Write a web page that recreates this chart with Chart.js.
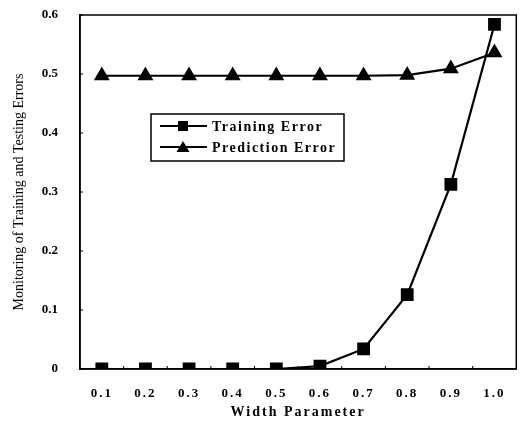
<!DOCTYPE html>
<html>
<head>
<meta charset="utf-8">
<script src="https://cdn.jsdelivr.net/npm/chart.js@4"></script>
<style>
  html, body { margin: 0; padding: 0; background: #fff; }
  #wrap { width: 526px; height: 427px; }
</style>
</head>
<body>
<div id="wrap"><canvas id="errChart" width="526" height="427"></canvas></div>
<script>
// width parameter categories
const widthParams = ['0.1', '0.2', '0.3', '0.4', '0.5', '0.6', '0.7', '0.8', '0.9', '1.0'];
// values
const trainingError = [0, 0, 0, 0, 0, 0.005, 0.034, 0.126, 0.313, 0.584];
const predictionError = [0.497, 0.497, 0.497, 0.497, 0.497, 0.497, 0.497, 0.498, 0.509, 0.536];
const yTicks = [0, 0.1, 0.2, 0.3, 0.4, 0.5, 0.6];

const serif = '"Liberation Serif", "Times New Roman", serif';

// frame round the plot + small inner ticks
const framePlugin = {
    id: 'frame',
    afterDraw(chart) {
        const { ctx, chartArea: a, scales } = chart;
        ctx.save();
        ctx.strokeStyle = '#000';
        ctx.lineWidth = 1.5;
        ctx.strokeRect(a.left, a.top, a.right - a.left, a.bottom - a.top);
        ctx.lineWidth = 1;
        yTicks.forEach(v => {
            const y = scales.y.getPixelForValue(v);
            ctx.beginPath();
            ctx.moveTo(a.left, y);
            ctx.lineTo(a.left + 3, y);
            ctx.stroke();
        });
        for (let i = 0; i < widthParams.length - 1; i++) {
            const x = (scales.x.getPixelForValue(i) + scales.x.getPixelForValue(i + 1)) / 2;
            ctx.beginPath();
            ctx.moveTo(x, a.bottom);
            ctx.lineTo(x, a.bottom - 3);
            ctx.stroke();
        }
        ctx.restore();
    }
};

// boxed legend inside the plot
const boxLegend = {
    id: 'boxLegend',
    afterDraw(chart, args, opts) {
        const ctx = chart.ctx;
        ctx.save();
        ctx.strokeStyle = '#000';
        ctx.lineWidth = 1.5;
        ctx.fillStyle = '#fff';
        ctx.fillRect(opts.x, opts.y, opts.w, opts.h);
        ctx.strokeRect(opts.x, opts.y, opts.w, opts.h);
        ctx.font = 'bold 14px ' + serif;
        ctx.letterSpacing = '1.5px';
        ctx.textBaseline = 'middle';
        chart.data.datasets.forEach((ds, i) => {
            const y = opts.y + 12 + i * 21;
            const x0 = opts.x + 9;
            ctx.lineWidth = 2;
            ctx.beginPath();
            ctx.moveTo(x0, y);
            ctx.lineTo(x0 + 47, y);
            ctx.stroke();
            ctx.fillStyle = '#000';
            const cx = x0 + 23;
            if (ds.pointStyle === 'rect') {
                ctx.fillRect(cx - 5, y - 5, 10, 10);
            } else {
                ctx.beginPath();
                ctx.moveTo(cx, y - 6);
                ctx.lineTo(cx + 6.5, y + 5);
                ctx.lineTo(cx - 6.5, y + 5);
                ctx.closePath();
                ctx.fill();
            }
            ctx.fillText(ds.label, x0 + 52, y + 1);
        });
        ctx.restore();
    }
};

const ctx = document.getElementById('errChart').getContext('2d');
new Chart(ctx, {
    type: 'line',
    data: {
        labels: widthParams,
        datasets: [{
            label: 'Training Error',
            data: trainingError,
            borderColor: '#000',
            backgroundColor: '#000',
            borderWidth: 2.2,
            pointStyle: 'rect',
            pointRadius: 7.5,
            tension: 0
        }, {
            label: 'Prediction Error',
            data: predictionError,
            borderColor: '#000',
            backgroundColor: '#000',
            borderWidth: 2.2,
            pointStyle: 'triangle',
            pointRadius: 7,
            tension: 0
        }]
    },
    options: {
        responsive: false,
        animation: false,
        layout: { padding: { top: 15, right: 8, left: 0, bottom: 0 } },
        plugins: {
            legend: { display: false },
            tooltip: { enabled: false },
            boxLegend: { x: 151, y: 114, w: 193, h: 47 }
        },
        scales: {
            x: {
                offset: true,
                grid: { display: false, drawTicks: false },
                border: { display: true, color: '#000', width: 1.5 },
                ticks: {
                    color: '#000',
                    padding: 17,
                    font: { family: serif, size: 13, weight: 'bold' }
                },
                title: {
                    display: true,
                    text: 'Width Parameter',
                    color: '#000',
                    padding: { top: 0, bottom: 6 },
                    font: { family: serif, size: 14, weight: 'bold' }
                },
                afterFit(scale) {
                    scale.height = 58;
                    scale.paddingLeft = 0;
                    scale.paddingRight = 0;
                    // wider letter spacing on the x axis text, like the original
                    if (!scale._spaced) {
                        const orig = scale.draw;
                        scale.draw = function (area) {
                            this.ctx.letterSpacing = '2px';
                            orig.call(this, area);
                            this.ctx.letterSpacing = '0px';
                        };
                        scale._spaced = true;
                    }
                }
            },
            y: {
                min: 0,
                max: 0.6,
                grid: { display: false, drawTicks: false },
                border: { display: true, color: '#000', width: 1.5 },
                afterBuildTicks(scale) { scale.ticks = yTicks.map(v => ({ value: v })); },
                ticks: {
                    color: '#000',
                    padding: 22,
                    font: { family: serif, size: 13, weight: 'bold' },
                    callback: v => v === 0 ? '0' : v.toFixed(1)
                },
                title: {
                    display: true,
                    text: 'Monitoring of Training and Testing Errors',
                    color: '#000',
                    padding: { top: 11, bottom: 0 },
                    font: { family: serif, size: 14 }
                },
                afterFit(scale) {
                    scale.width = 80;
                    scale.paddingTop = 0;
                    scale.paddingBottom = 0;
                }
            }
        }
    },
    plugins: [framePlugin, boxLegend]
});
</script>
</body>
</html>
